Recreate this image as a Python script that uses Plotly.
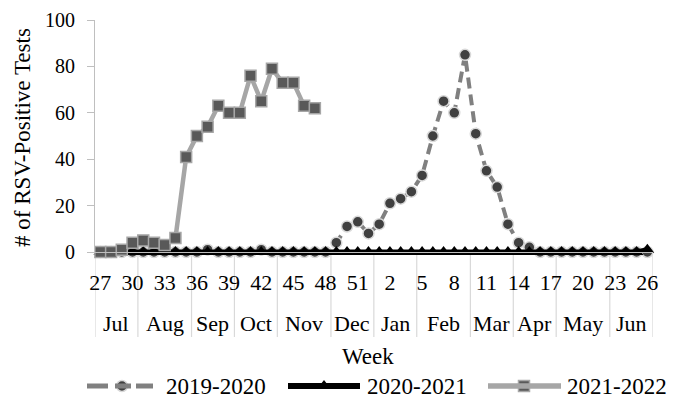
import plotly.graph_objects as go

weeks = [27, 28, 29, 30, 31, 32, 33, 34, 35, 36, 37, 38, 39, 40, 41, 42, 43, 44, 45, 46, 47, 48, 49, 50, 51, 52,
         1, 2, 3, 4, 5, 6, 7, 8, 9, 10, 11, 12, 13, 14, 15, 16, 17, 18, 19, 20, 21, 22, 23, 24, 25, 26]

s2019_2020 = [0, 0, 0, 0, 0, 0, 0, 0, 0, 0, 1, 0, 0, 0, 0, 1, 0, 0, 0, 0, 0, 0,
              4, 11, 13, 8, 12, 21, 23, 26, 33, 50, 65, 60, 85, 51, 35, 28, 12, 4, 2,
              0, 0, 0, 0, 0, 0, 0, 0, 0, 0, 0]
s2020_2021 = [0, 0, 0, 0, 0, 0, 0, 0, 0, 0, 0, 0, 0, 0, 0, 0, 0, 0, 0, 0, 0, 0, 0, 0, 0, 0,
              0, 0, 0, 0, 0, 0, 0, 0, 0, 0, 0, 0, 0, 0, 0, 0, 0, 0, 0, 0, 0, 0, 0, 0, 0, 1]
s2021_2022 = [0, 0, 1, 4, 5, 4, 3, 6, 41, 50, 54, 63, 60, 60, 76, 65, 79, 73, 73, 63, 62]

series_names = ["2019-2020", "2020-2021", "2021-2022"]
months = ["Jul", "Aug", "Sep", "Oct", "Nov", "Dec", "Jan", "Feb", "Mar", "Apr", "May", "Jun"]
weeks_per_month = [4, 5, 4, 4, 5, 4, 4, 5, 4, 4, 5, 4]

tick_step = 3
y_ticks = [0, 20, 40, 60, 80, 100]

# the page body adds an 8px margin; the figure is sized to fill the rest of the window
OFF = 8
W, H = 676 - OFF, 403 - OFF
FONT = "Liberation Serif"
BLACK = "#000000"
idx = list(range(len(weeks)))


def px_x(v):
    return (v - OFF) / W


def px_y(v):
    return 1 - (v - OFF) / H


styles = [
    dict(line=dict(color="#808080", width=4, dash="11px,6px"),
         marker=dict(symbol="circle", size=11, color="#404040", line=dict(color="#d9d9d9", width=1.5))),
    dict(line=dict(color="#000000", width=5),
         marker=dict(symbol="triangle-up", size=12, color="#000000", line=dict(color="#000000", width=0))),
    dict(line=dict(color="#a6a6a6", width=4.5),
         marker=dict(symbol="square", size=11, color="#595959", line=dict(color="#a6a6a6", width=1.5))),
]

fig = go.Figure()
for name, ys, st in zip(series_names, [s2019_2020, s2020_2021, s2021_2022], styles):
    fig.add_trace(go.Scatter(x=idx[:len(ys)], y=ys, name=name, mode="lines+markers",
                             line=st["line"], marker=st["marker"], cliponaxis=False,
                             showlegend=False, xaxis="x", yaxis="y"))

# ---- manual legend (layout positions in window pixels) ----
leg_y = 386
leg_line_segments = [
    [(87, 108), (115, 131), (136, 153)],
    [(288, 360)],
    [(488, 561)],
]
leg_marker_x = [122, 324, 524]
leg_text_x = [164, 365, 565]
shapes = []
annotations = []
for i, name in enumerate(series_names):
    st = styles[i]
    for (a, b) in leg_line_segments[i]:
        shapes.append(dict(type="line", xref="paper", yref="paper", x0=px_x(a), x1=px_x(b),
                           y0=px_y(leg_y), y1=px_y(leg_y),
                           line=dict(color=st["line"]["color"], width=st["line"]["width"] + 1)))
    fig.add_trace(go.Scatter(x=[leg_marker_x[i] - OFF], y=[leg_y - OFF], mode="markers",
                             marker=st["marker"], xaxis="x2", yaxis="y2", showlegend=False,
                             hoverinfo="skip", cliponaxis=False))
    annotations.append(dict(x=px_x(leg_text_x[i]), y=px_y(leg_y), xref="paper", yref="paper",
                            text=name, showarrow=False, xanchor="left", yanchor="middle",
                            font=dict(family=FONT, size=23, color=BLACK)))

# ---- month separators and labels ----
start = 0
bounds = [-0.5]
for m, n in zip(months, weeks_per_month):
    annotations.append(dict(x=start + n / 2 - 0.5, y=px_y(323), xref="x", yref="paper", text=m,
                            showarrow=False, font=dict(family=FONT, size=22, color=BLACK),
                            xanchor="center", yanchor="middle"))
    start += n
    bounds.append(start - 0.5)
for b in bounds:
    shapes.append(dict(type="line", xref="x", yref="paper", x0=b, x1=b, y0=px_y(252), y1=px_y(337),
                       line=dict(color="#d9d9d9", width=1.2), layer="below"))

annotations.append(dict(x=px_x(368), y=px_y(356), xref="paper", yref="paper", text="Week",
                        showarrow=False, font=dict(family=FONT, size=23, color=BLACK),
                        xanchor="center", yanchor="middle"))
annotations.append(dict(x=px_x(22), y=px_y(138), xref="paper", yref="paper",
                        text="# of RSV-Positive Tests", showarrow=False, textangle=-90,
                        font=dict(family=FONT, size=23, color=BLACK),
                        xanchor="center", yanchor="middle"))

fig.update_layout(
    width=W, height=H,
    margin=dict(l=0, r=0, t=0, b=0, autoexpand=False),
    paper_bgcolor="white", plot_bgcolor="rgba(0,0,0,0)",
    font=dict(family=FONT, size=22, color=BLACK),
    showlegend=False,
    shapes=shapes, annotations=annotations,
    xaxis=dict(domain=[px_x(95), px_x(652.7)], anchor="y",
               range=[-0.5, 51.5], tickmode="array", tickvals=idx[::tick_step],
               ticktext=[str(w) for w in weeks[::tick_step]], showgrid=False, zeroline=False,
               showline=True, linecolor="#bfbfbf", linewidth=1, ticks="", ticklabelstandoff=11,
               tickfont=dict(family=FONT, size=22, color=BLACK), automargin=False),
    yaxis=dict(domain=[px_y(252), px_y(20)], anchor="x",
               range=[0, 100], tickvals=y_ticks, showgrid=False, zeroline=False,
               showline=True, linecolor="#bfbfbf", linewidth=1, ticks="outside", ticklen=7,
               tickcolor="#bfbfbf", tickfont=dict(family=FONT, size=20, color=BLACK),
               ticklabelstandoff=8, automargin=False),
    xaxis2=dict(domain=[0, 1], anchor="y2", range=[0, W], visible=False, fixedrange=True),
    yaxis2=dict(domain=[0, 1], anchor="x2", range=[H, 0], visible=False, fixedrange=True),
)

fig.write_html("out.html")
